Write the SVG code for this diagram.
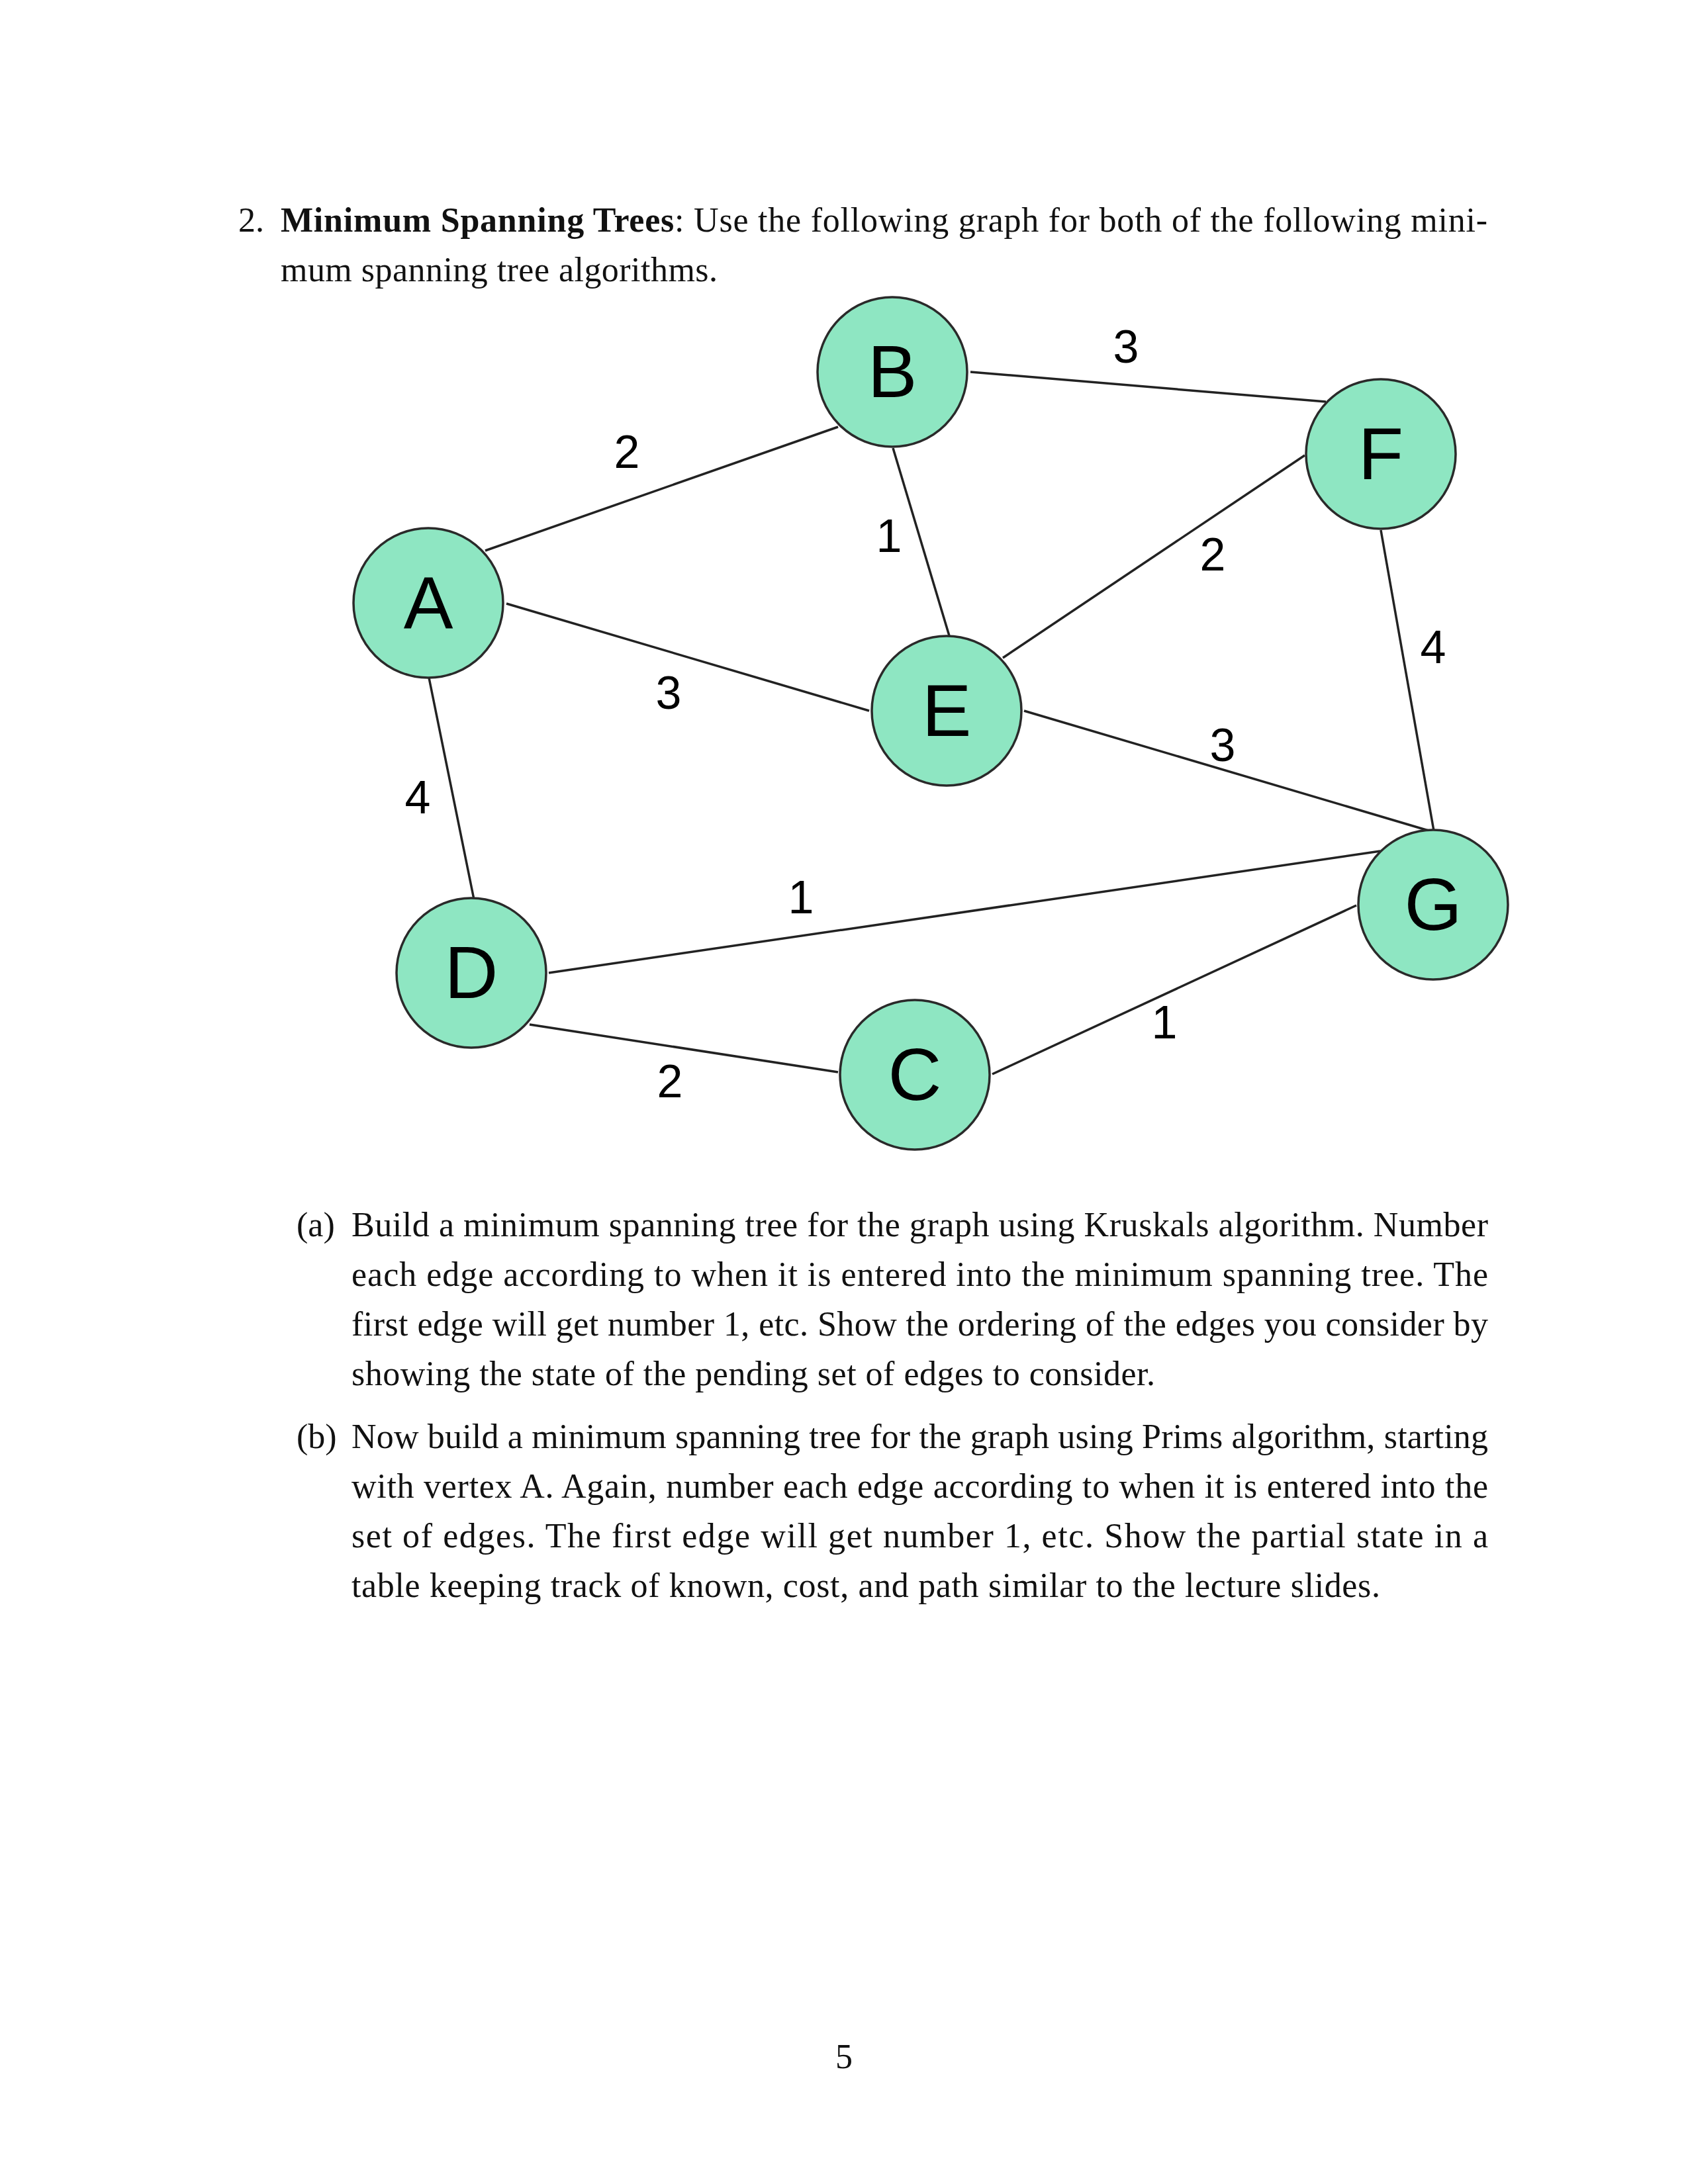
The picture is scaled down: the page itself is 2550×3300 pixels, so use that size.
<svg xmlns="http://www.w3.org/2000/svg" width="2550" height="3300" viewBox="0 0 2550 3300">
<style>
.body{font-family:"Liberation Serif","Times New Roman",serif;font-size:52px;fill:#111}
.node circle{fill:#8EE6C2;stroke:#2a2a2a;stroke-width:3.5}
.node text{font-family:"Liberation Sans",Arial,sans-serif;font-size:112px;fill:#000;text-anchor:middle}
.edges line{stroke:#222;stroke-width:3.5}
.w{font-family:"Liberation Sans",Arial,sans-serif;font-size:70px;fill:#000;text-anchor:middle}
</style>
<rect width="2550" height="3300" fill="#fff"/>
<text class="body" x="360" y="350">2.</text>
<text class="body" x="424" y="350" textLength="1823" lengthAdjust="spacing"><tspan font-weight="bold">Minimum Spanning Trees</tspan>: Use the following graph for both of the following mini-</text>
<text class="body" x="424" y="425" textLength="660" lengthAdjust="spacing">mum spanning tree algorithms.</text>
<g class="edges">
<line x1="733" y1="832" x2="1266" y2="645"/>
<line x1="1349" y1="677" x2="1435" y2="964"/>
<line x1="765" y1="912" x2="1313" y2="1074"/>
<line x1="648" y1="1024" x2="716" y2="1359"/>
<line x1="829" y1="1470" x2="2085" y2="1286"/>
<line x1="800" y1="1548" x2="1266" y2="1620"/>
<line x1="1499" y1="1623" x2="2049" y2="1368"/>
<line x1="1547" y1="1074" x2="2158" y2="1255"/>
<line x1="2086" y1="801" x2="2167" y2="1261"/>
<line x1="1466" y1="562" x2="2003" y2="607"/>
<line x1="1515" y1="994" x2="1971" y2="688"/>
</g>
<g id="weights">
<text class="w" x="947" y="707">2</text>
<text class="w" x="1343" y="834">1</text>
<text class="w" x="1701" y="548">3</text>
<text class="w" x="1832" y="862">2</text>
<text class="w" x="2165" y="1002">4</text>
<text class="w" x="1010" y="1071">3</text>
<text class="w" x="631" y="1229">4</text>
<text class="w" x="1210" y="1380">1</text>
<text class="w" x="1847" y="1150">3</text>
<text class="w" x="1759" y="1569">1</text>
<text class="w" x="1012" y="1658">2</text>
</g>
<g id="node-B" class="node"><circle cx="1348" cy="562" r="113"/><text x="1348" y="600">B</text></g>
<g id="node-F" class="node"><circle cx="2086" cy="686" r="113"/><text x="2086" y="724">F</text></g>
<g id="node-A" class="node"><circle cx="647" cy="911" r="113"/><text x="647" y="949">A</text></g>
<g id="node-E" class="node"><circle cx="1430" cy="1074" r="113"/><text x="1430" y="1112">E</text></g>
<g id="node-G" class="node"><circle cx="2165" cy="1367" r="113"/><text x="2165" y="1405">G</text></g>
<g id="node-D" class="node"><circle cx="712" cy="1470" r="113"/><text x="712" y="1508">D</text></g>
<g id="node-C" class="node"><circle cx="1382" cy="1624" r="113"/><text x="1382" y="1662">C</text></g>
<text class="body" x="448" y="1868">(a)</text>
<text class="body" x="531" y="1868" textLength="1717" lengthAdjust="spacing">Build a minimum spanning tree for the graph using Kruskals algorithm. Number</text>
<text class="body" x="531" y="1943" textLength="1717" lengthAdjust="spacing">each edge according to when it is entered into the minimum spanning tree. The</text>
<text class="body" x="531" y="2018" textLength="1717" lengthAdjust="spacing">first edge will get number 1, etc. Show the ordering of the edges you consider by</text>
<text class="body" x="531" y="2093" textLength="1214" lengthAdjust="spacing">showing the state of the pending set of edges to consider.</text>
<text class="body" x="448" y="2188">(b)</text>
<text class="body" x="531" y="2188" textLength="1717" lengthAdjust="spacing">Now build a minimum spanning tree for the graph using Prims algorithm, starting</text>
<text class="body" x="531" y="2263" textLength="1717" lengthAdjust="spacing">with vertex A. Again, number each edge according to when it is entered into the</text>
<text class="body" x="531" y="2338" textLength="1717" lengthAdjust="spacing">set of edges. The first edge will get number 1, etc. Show the partial state in a</text>
<text class="body" x="531" y="2413" textLength="1554" lengthAdjust="spacing">table keeping track of known, cost, and path similar to the lecture slides.</text>
<text class="body" x="1275" y="3125" text-anchor="middle">5</text>
</svg>
